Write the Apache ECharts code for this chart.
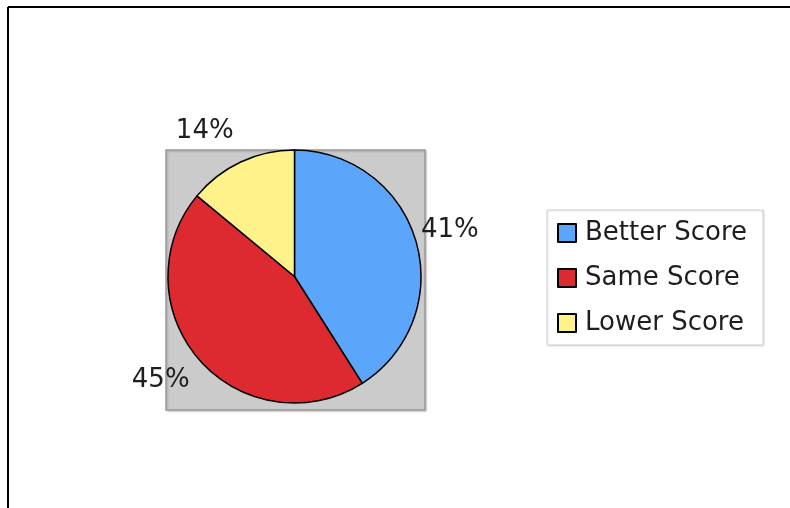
<!DOCTYPE html>
<html>
<head>
<meta charset="utf-8">
<script src="https://cdn.jsdelivr.net/npm/echarts@6/dist/echarts.min.js"></script>
<style>
html,body{margin:0;padding:0;background:#fff;}
#chart{width:790px;height:508px;}
</style>
</head>
<body>
<div id="chart"></div>
<script>
var categories = ['Better Score', 'Same Score', 'Lower Score'];
var values = [41, 45, 14];
var colors = ['#5ba6fb', '#dc2a30', '#fff28a'];
var labelOffsets = [[0, -11], [-5, 20], [-2, -31]];

var chart = echarts.init(document.getElementById('chart'), null, {renderer: 'canvas'});
var data = categories.map(function (c, i) {
  return {
    name: c,
    value: values[i],
    itemStyle: {color: colors[i]},
    label: {offset: labelOffsets[i]}
  };
});
chart.setOption({
  animation: false,
  graphic: [
    {type: 'rect', shape: {x: 166, y: 150, width: 259, height: 260}, z: -10,
     style: {fill: '#cbcbcb', stroke: '#9a9a9a', lineWidth: 1.5,
             shadowColor: 'rgba(0,0,0,0.2)', shadowBlur: 2, shadowOffsetX: 1, shadowOffsetY: 1}},
    {type: 'line', shape: {x1: 8, y1: 7, x2: 790, y2: 7}, style: {stroke: '#000', lineWidth: 2}},
    {type: 'line', shape: {x1: 8, y1: 7, x2: 8, y2: 508}, style: {stroke: '#000', lineWidth: 2}}
  ],
  legend: {
    orient: 'vertical',
    left: 547,
    top: 210,
    padding: [10, 11, 9, 10],
    itemWidth: 18,
    itemHeight: 18,
    itemGap: 19,
    icon: 'rect',
    backgroundColor: '#fff',
    borderColor: '#cfcfcf',
    borderWidth: 1,
    shadowColor: 'rgba(0,0,0,0.12)',
    shadowBlur: 2,
    shadowOffsetX: 1,
    shadowOffsetY: 1,
    textStyle: {fontFamily: 'DejaVu Sans', fontSize: 26, lineHeight: 25, color: '#1e1e1e',
                padding: [0, 0, 0, 4], width: 167},
    data: categories
  },
  series: [{
    type: 'pie',
    center: [294.5, 276.5],
    radius: 126.5,
    startAngle: 90,
    clockwise: true,
    avoidLabelOverlap: false,
    itemStyle: {borderColor: '#000', borderWidth: 1.5},
    label: {
      show: true,
      position: 'outside',
      formatter: '{d}%',
      fontFamily: 'DejaVu Sans',
      fontSize: 26,
      color: '#1e1e1e'
    },
    labelLine: {show: false, length: 0, length2: 0},
    emphasis: {disabled: true},
    data: data
  }]
});
</script>
</body>
</html>
